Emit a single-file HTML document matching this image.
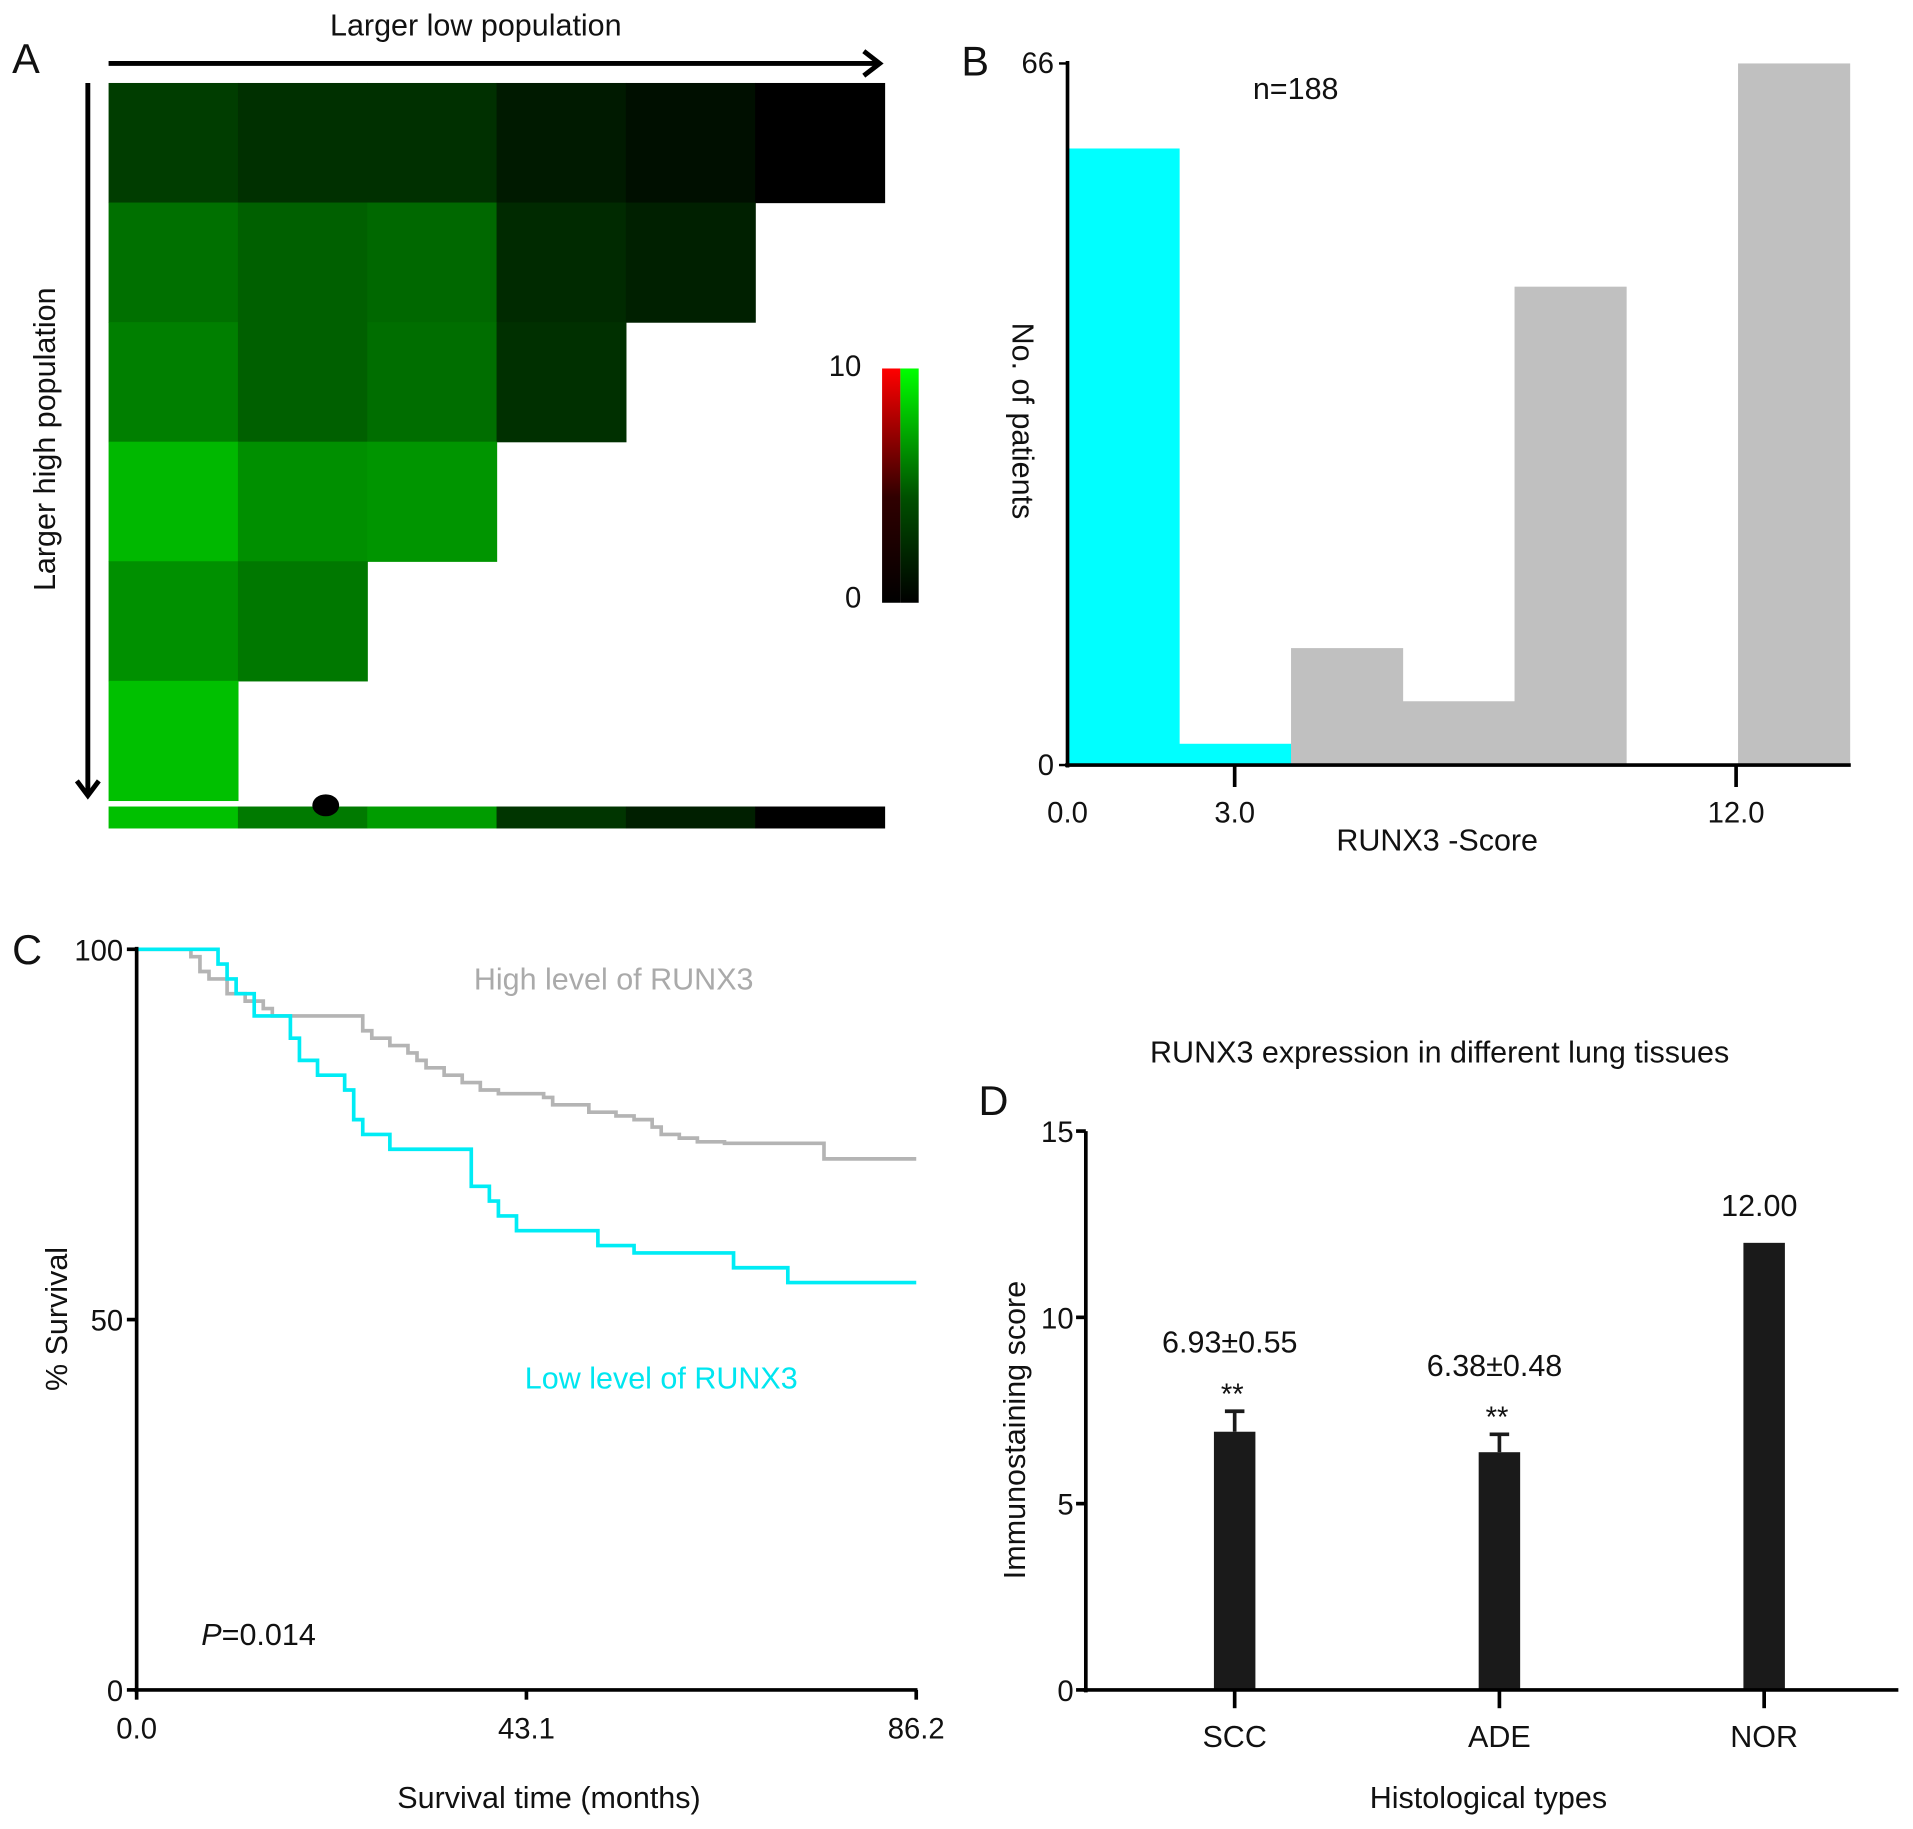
<!DOCTYPE html>
<html><head><meta charset="utf-8"><style>
html,body{margin:0;padding:0;background:#fff}
svg{display:block}
text{font-family:"Liberation Sans",sans-serif;fill:#111}
</style></head><body>
<svg width="1913" height="1829" viewBox="0 0 1568 1499" preserveAspectRatio="none" xmlns="http://www.w3.org/2000/svg">
<defs>
<linearGradient id="gr" x1="0" y1="0" x2="0" y2="1"><stop offset="0" stop-color="#ff0000"/><stop offset="0.55" stop-color="#300000"/><stop offset="1" stop-color="#000"/></linearGradient>
<linearGradient id="gg" x1="0" y1="0" x2="0" y2="1"><stop offset="0" stop-color="#00ff00"/><stop offset="0.55" stop-color="#005000"/><stop offset="1" stop-color="#000"/></linearGradient>
</defs>
<g id="pa">
<text x="10" y="60" font-size="34">A</text>
<text x="390" y="29" font-size="25" text-anchor="middle">Larger low population</text>
<text transform="translate(45,360) rotate(-90)" font-size="25" text-anchor="middle">Larger high population</text>
<line x1="89" y1="52" x2="720" y2="52" stroke="#000" stroke-width="4"/>
<path d="M708 42 L721 52 L708 62" fill="none" stroke="#000" stroke-width="4"/>
<line x1="72" y1="68" x2="72" y2="650" stroke="#000" stroke-width="4"/>
<path d="M63 640 L72 652 L81 640" fill="none" stroke="#000" stroke-width="4"/>
<g id="heat"></g>
<ellipse cx="267" cy="660" rx="11" ry="9" fill="#000"/>
<rect x="723" y="302" width="15" height="192" fill="url(#gr)"/>
<rect x="738" y="302" width="15" height="192" fill="url(#gg)"/>
<text x="706" y="308" font-size="24" text-anchor="end">10</text>
<text x="706" y="498" font-size="24" text-anchor="end">0</text>
</g>
<g id="pb">
<text x="788" y="62" font-size="34">B</text>
<text x="1062" y="81" font-size="25" text-anchor="middle">n=188</text>
<text transform="translate(830,345) rotate(90)" font-size="25" text-anchor="middle">No. of patients</text>
<text x="1178" y="697" font-size="25" text-anchor="middle">RUNX3 -Score</text>
<g id="bbars"></g>
<line x1="875" y1="50" x2="875" y2="629" stroke="#000" stroke-width="3"/>
<line x1="873" y1="627" x2="1517" y2="627" stroke="#000" stroke-width="3"/>
<g id="bticks"></g>
</g>
<g id="pc">
<text x="10" y="790" font-size="34">C</text>
<text x="503" y="811" font-size="25" style="fill:#aaa" text-anchor="middle">High level of RUNX3</text>
<text x="542" y="1138" font-size="25" style="fill:#00e6f0" text-anchor="middle">Low level of RUNX3</text>
<text x="165" y="1348" font-size="25"><tspan font-style="italic">P</tspan>=0.014</text>
<text transform="translate(55,1081) rotate(-90)" font-size="25" text-anchor="middle">% Survival</text>
<text x="450" y="1482" font-size="25" text-anchor="middle">Survival time (months)</text>
<g id="ccurves"></g>
<line x1="112" y1="776" x2="112" y2="1387" stroke="#000" stroke-width="3"/>
<line x1="110" y1="1385" x2="752" y2="1385" stroke="#000" stroke-width="3"/>
<g id="cticks"></g>
</g>
<g id="pd">
<text x="1180" y="871" font-size="25" text-anchor="middle">RUNX3 expression in different lung tissues</text>
<text x="802" y="914" font-size="34">D</text>
<text transform="translate(840,1172) rotate(-90)" font-size="25" text-anchor="middle">Immunostaining score</text>
<text x="1220" y="1482" font-size="25" text-anchor="middle">Histological types</text>
<g id="dbars"></g>
<line x1="890" y1="927" x2="890" y2="1387" stroke="#000" stroke-width="3"/>
<line x1="888" y1="1385" x2="1556" y2="1385" stroke="#000" stroke-width="3"/>
</g>
</svg>
<script>
const NS="http://www.w3.org/2000/svg";
// Panel A heatmap data (green intensity 0-255 per cell; rows top->bottom)
const heatRows=[[61,48,48,26,15,0],[112,96,104,42,32],[127,96,110,48],[184,143,149],[144,120],[192]];
const stripVals=[192,122,156,53,31,0];
// Panel B histogram
const histCounts=[58,2,11,6,45,0,66];
const histColors=["#00ffff","#00ffff","#c0c0c0","#c0c0c0","#c0c0c0","#c0c0c0","#c0c0c0"];
const histTicks=[0,3,12];
const histTickLabels=["0.0","3.0","12.0"];
const histYTicks=[0,66];
// Panel C survival (months, %)
const highT=[0,5,6,7,8,10,12,14,15,24,25,26,28,30,31,32,34,36,38,40,45,46,50,53,55,57,58,60,62,65,76,86.2];
const highS=[100,100,99,97,96,94,93,92,91,91,89,88,87,86,85,84,83,82,81,80.5,80,79,78,77.5,77,76,75,74.5,74,73.8,71.7,71.7];
const lowT=[0,8,9,10,11,13,17,18,20,23,24,25,28,36,37,39,40,42,48,51,55,66,72,86.2];
const lowS=[100,100,98,96,94,91,88,85,83,81,77,75,73,73,68,66,64,62,62,60,59,57,55,55];
const survXTicks=[0,43.1,86.2];
const survXLabels=["0.0","43.1","86.2"];
const survYTicks=[0,50,100];
// Panel D
const dCats=["SCC","ADE","NOR"];
const dMeans=[6.93,6.38,12.0];
const dErr=[0.55,0.48,0];
const dLabels=["6.93±0.55","6.38±0.48","12.00"];
const dStars=["**","**",""];
const dYTicks=[0,5,10,15];

function el(tag,attrs,parent,txt){const e=document.createElementNS(NS,tag);for(const k in attrs)e.setAttribute(k,attrs[k]);if(txt!==undefined)e.textContent=txt;parent.appendChild(e);return e;}
function g(v){return "rgb(0,"+v+",0)";}
// A
const heat=document.getElementById("heat");
const cx0=89,cw=106,cy0=68,ch=98;
heatRows.forEach((row,r)=>row.forEach((v,c)=>{
 const e=el("rect",{x:cx0+c*cw,y:cy0+r*ch,width:cw+0.5,height:ch+0.5,fill:g(v)},heat);
 
 
}));
stripVals.forEach((v,c)=>{
 const e=el("rect",{x:cx0+c*cw,y:661,width:cw+0.5,height:18,fill:g(v)},heat);
 
 
});
// B
const bx0=875,bw=91.6,by0=627,byTop=52,bMax=66;
const by=v=>by0-(v/bMax)*(by0-byTop);
const bxs=v=>bx0+v*(1423-875)/12;
const bb=document.getElementById("bbars");
histCounts.forEach((v,i)=>{if(v<=0)return;
 const e=el("rect",{x:bx0+i*bw,y:by(v),width:bw+0.3,height:by0-by(v),fill:histColors[i]},bb);
 
 
});
const bt=document.getElementById("bticks");
histTicks.forEach((t,i)=>{const x=bxs(t);
 if(t>0)el("line",{x1:x,y1:627,x2:x,y2:645,stroke:"#000","stroke-width":3},bt);
 const e=el("text",{x:x,y:674,"font-size":24,"text-anchor":"middle"},bt,histTickLabels[i]);
 
 
});
histYTicks.forEach(t=>{el("line",{x1:868,y1:by(t),x2:875,y2:by(t),stroke:"#000","stroke-width":2},bt);
 const e=el("text",{x:864,y:by(t)+8,"font-size":24,"text-anchor":"end"},bt,String(t));
 
 
});
// C
const sx=t=>112+t*(751-112)/86.2;
const sy=s=>1385-s*(1385-778)/100;
function stepPath(T,S){let d="M"+sx(T[0])+" "+sy(S[0]);for(let i=1;i<T.length;i++){d+=" L"+sx(T[i])+" "+sy(S[i-1])+" L"+sx(T[i])+" "+sy(S[i]);}return d;}
const cc=document.getElementById("ccurves");
let p=el("path",{d:stepPath(highT,highS),fill:"none",stroke:"#b4b4b4","stroke-width":3},cc);


p=el("path",{d:stepPath(lowT,lowS),fill:"none",stroke:"#00ecf5","stroke-width":3},cc);


const ct=document.getElementById("cticks");
survXTicks.forEach((t,i)=>{const x=sx(t);
 el("line",{x1:x,y1:1385,x2:x,y2:1393,stroke:"#000","stroke-width":3},ct);
 const e=el("text",{x:x,y:1425,"font-size":24,"text-anchor":"middle"},ct,survXLabels[i]);
 
 
});
survYTicks.forEach(t=>{el("line",{x1:104,y1:sy(t),x2:112,y2:sy(t),stroke:"#000","stroke-width":3},ct);
 const e=el("text",{x:101,y:sy(t)+9,"font-size":24,"text-anchor":"end"},ct,String(t));
 
 
});
// D
const dy=v=>1385-v*(1385-927)/15;
const dxc=[1012,1229,1446];
const db=document.getElementById("dbars");
dCats.forEach((c,i)=>{const x=dxc[i];
 const r=el("rect",{x:x-17,y:dy(dMeans[i]),width:34,height:1385-dy(dMeans[i]),fill:"#1a1a1a"},db);
 
 
 if(dErr[i]>0){const yt=dy(dMeans[i]+dErr[i]);
  el("line",{x1:x,y1:dy(dMeans[i]),x2:x,y2:yt,stroke:"#1a1a1a","stroke-width":3},db);
  el("line",{x1:x-8,y1:yt,x2:x+8,y2:yt,stroke:"#1a1a1a","stroke-width":3},db);}
 el("line",{x1:x,y1:1385,x2:x,y2:1400,stroke:"#000","stroke-width":3},db);
 let t=el("text",{x:x,y:1432,"font-size":25,"text-anchor":"middle"},db,c);
 
 
 const top=dy(dMeans[i]+dErr[i]);
 if(dStars[i]){t=el("text",{x:x-2,y:top-6,"font-size":24,"text-anchor":"middle"},db,dStars[i]);
  
  }
 t=el("text",{x:x-4,y:top-(dStars[i]?48:22),"font-size":25,"text-anchor":"middle"},db,dLabels[i]);
 
 
});
dYTicks.forEach(t=>{el("line",{x1:882,y1:dy(t),x2:890,y2:dy(t),stroke:"#000","stroke-width":3},db);
 const e=el("text",{x:880,y:dy(t)+9,"font-size":24,"text-anchor":"end"},db,String(t));
 
 
});
</script>
</body></html>
